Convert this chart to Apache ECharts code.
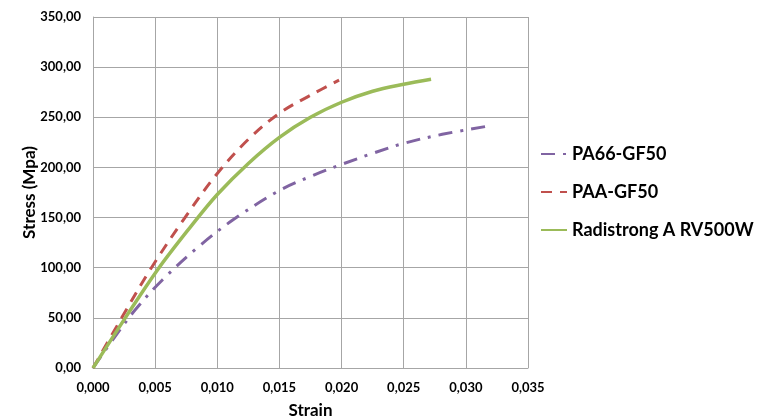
<!DOCTYPE html>
<html>
<head>
<meta charset="utf-8">
<script src="https://cdn.jsdelivr.net/npm/echarts@6/dist/echarts.min.js"></script>
<style>
  html, body { margin: 0; padding: 0; background: #fff; }
  #main { width: 766px; height: 418px; }
</style>
</head>
<body>
<div id="main"></div>
<script>
// strain / stress curves
const pa66Strain = [0, 0.0017, 0.0034, 0.0056, 0.0085, 0.0113, 0.015, 0.0175, 0.020, 0.0225, 0.025, 0.0281, 0.0317];
const pa66Stress = [0, 30, 58, 88, 121, 148, 177, 191, 203, 214, 224, 233, 241];

const paaStrain = [0, 0.0024, 0.0047, 0.0074, 0.010, 0.0125, 0.015, 0.0175, 0.0198];
const paaStress = [0, 52, 100, 150, 194, 228, 254, 272, 287];

const radStrain = [0, 0.0026, 0.0052, 0.0078, 0.010, 0.0125, 0.015, 0.0175, 0.020, 0.0225, 0.025, 0.0272];
const radStress = [0, 50, 98, 140, 173, 204, 230, 250, 265, 276, 283, 288];

const seriesNames = ['PA66-GF50', 'PAA-GF50', 'Radistrong A RV500W'];

function pairs(xs, ys) {
  return xs.map((x, i) => [x, ys[i]]);
}

let chart = echarts.init(document.getElementById('main'));

const font = 'Lato, "Open Sans", sans-serif';

let option = {
  animation: false,
  textStyle: { fontFamily: font },
  grid: { left: 93, right: 238, top: 17, bottom: 50, containLabel: false, outerBoundsMode: 'none' },
  legend: {
    orient: 'vertical',
    left: 540,
    top: 145,
    padding: 0,
    itemGap: 20,
    itemWidth: 26,
    itemHeight: 18,
    itemStyle: { opacity: 0 },
    textStyle: { fontFamily: font, fontWeight: 'bold', fontSize: 18, color: '#000' },
    data: seriesNames
  },
  xAxis: {
    type: 'value',
    min: 0,
    max: 0.035,
    interval: 0.005,
    name: 'Strain',
    nameLocation: 'middle',
    nameGap: 34,
    nameTextStyle: { fontWeight: 'bold', fontSize: 17, color: '#000', fontFamily: font },
    axisLine: { show: true, lineStyle: { color: '#a6a6a6' } },
    axisTick: { show: false },
    axisLabel: {
      color: '#000', fontWeight: 'bold', fontSize: 13, margin: 13,
      formatter: v => v.toFixed(3).replace('.', ',')
    },
    splitLine: { show: true, lineStyle: { color: '#a6a6a6' } }
  },
  yAxis: {
    type: 'value',
    min: 0,
    max: 350,
    interval: 50,
    name: 'Stress (Mpa)',
    nameLocation: 'middle',
    nameGap: 55,
    nameMoveOverlap: false,
    nameTextStyle: { fontWeight: 'bold', fontSize: 17, color: '#000', fontFamily: font },
    axisLine: { show: true, lineStyle: { color: '#a6a6a6' } },
    axisTick: { show: false },
    axisLabel: {
      color: '#000', fontWeight: 'bold', fontSize: 13, margin: 12,
      formatter: v => v.toFixed(2).replace('.', ',')
    },
    splitLine: { show: true, lineStyle: { color: '#a6a6a6' } }
  },
  series: [
    {
      name: seriesNames[0],
      type: 'line',
      smooth: 0.35,
      symbol: 'none',
      data: pairs(pa66Strain, pa66Stress),
      itemStyle: { color: '#8064a2' },
      lineStyle: { color: '#8064a2', width: 3, type: [14, 8, 3, 8] }
    },
    {
      name: seriesNames[1],
      type: 'line',
      smooth: 0.35,
      symbol: 'none',
      data: pairs(paaStrain, paaStress),
      itemStyle: { color: '#c0504d' },
      lineStyle: { color: '#c0504d', width: 3, type: [11, 8] }
    },
    {
      name: seriesNames[2],
      type: 'line',
      smooth: 0.35,
      symbol: 'none',
      data: pairs(radStrain, radStress),
      itemStyle: { color: '#9bbb59' },
      lineStyle: { color: '#9bbb59', width: 3.5 }
    }
  ]
};

chart.setOption(option);
</script>
</body>
</html>
